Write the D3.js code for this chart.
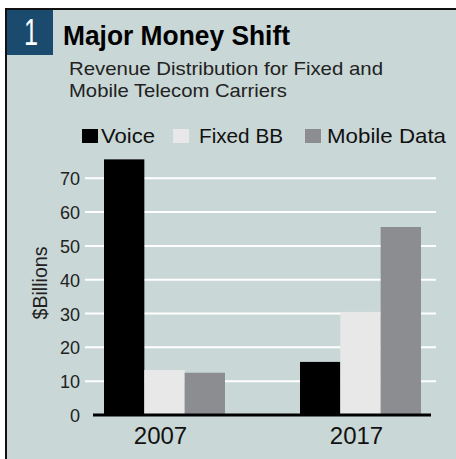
<!DOCTYPE html>
<html>
<head>
<meta charset="utf-8">
<script src="https://cdn.jsdelivr.net/npm/d3@7"></script>
<style>
  body { margin: 0; background: #fff; }
  text { font-family: "Liberation Sans", Arial, sans-serif; }
</style>
</head>
<body>
<svg id="chart" width="456" height="459"></svg>
<script>
// data
var years = ["2007", "2017"];
var series = ["Voice", "Fixed BB", "Mobile Data"];
var voice = [75.6, 15.7];
var fixedBB = [13.3, 30.5];
var mobileData = [12.5, 55.6];
var yTicks = [0, 10, 20, 30, 40, 50, 60, 70];

var colors = { "Voice": "#000000", "Fixed BB": "#e8e8e8", "Mobile Data": "#8c8d90" };
var values = { "Voice": voice, "Fixed BB": fixedBB, "Mobile Data": mobileData };

var svg = d3.select("#chart");

// panel background + frame (top and left only)
svg.append("rect").attr("x", 6).attr("y", 9).attr("width", 450).attr("height", 450).attr("fill", "#c9d7d6");
svg.append("line").attr("x1", 6).attr("x2", 456).attr("y1", 9).attr("y2", 9).attr("stroke", "#111").attr("stroke-width", 2);
svg.append("line").attr("x1", 6).attr("x2", 6).attr("y1", 8).attr("y2", 459).attr("stroke", "#111").attr("stroke-width", 2);

// number badge
svg.append("rect").attr("x", 7).attr("y", 10).attr("width", 46).attr("height", 45).attr("fill", "#1a4a6e");
svg.append("text").attr("x", 31).attr("y", 45).attr("text-anchor", "middle")
  .attr("fill", "#fff").style("font-size", "36px").attr("textLength", 14)
  .attr("lengthAdjust", "spacingAndGlyphs").text("1");

// titles, squeezed to the condensed widths of the original
svg.append("text").attr("x", 63).attr("y", 45)
  .style("font-size", "28px").style("font-weight", "bold").attr("fill", "#000")
  .attr("textLength", 227).attr("lengthAdjust", "spacingAndGlyphs").text("Major Money Shift");
svg.append("text").attr("x", 69).attr("y", 75).style("font-size", "19px").attr("fill", "#222")
  .attr("textLength", 314).attr("lengthAdjust", "spacingAndGlyphs")
  .text("Revenue Distribution for Fixed and");
svg.append("text").attr("x", 69).attr("y", 97).style("font-size", "19px").attr("fill", "#222")
  .attr("textLength", 218).attr("lengthAdjust", "spacingAndGlyphs")
  .text("Mobile Telecom Carriers");

// legend
var legendX = [82, 173, 305];
var legendTextX = [101, 199, 327];
var legendW = [54, 84, 119];
series.forEach(function(s, i) {
  svg.append("rect").attr("x", legendX[i]).attr("y", 129).attr("width", 16).attr("height", 14)
    .attr("fill", colors[s]);
  svg.append("text").attr("x", legendTextX[i]).attr("y", 143)
    .style("font-size", "21px").attr("fill", "#111")
    .attr("textLength", legendW[i]).attr("lengthAdjust", "spacingAndGlyphs").text(s);
});

// scales
var y = d3.scaleLinear().domain([0, 70]).range([415, 178.3]);
var x0 = d3.scaleBand().domain(years).range([104, 421]).paddingInner(75 / 196).paddingOuter(0);
var x1 = d3.scaleBand().domain(series).range([0, x0.bandwidth()]);

// gridlines
svg.append("g").selectAll("line").data(yTicks.filter(function(d) { return d > 0; })).join("line")
  .attr("x1", 85).attr("x2", 436)
  .attr("y1", function(d) { return y(d); }).attr("y2", function(d) { return y(d); })
  .attr("stroke", "#fff").attr("stroke-width", 2);

// y axis labels
var yAxis = d3.axisLeft(y).tickValues(yTicks).tickSize(0).tickPadding(0);
svg.append("g").attr("transform", "translate(80,0)").call(yAxis)
  .call(function(g) { g.select(".domain").remove(); })
  .selectAll("text").style("font-size", "18px").attr("fill", "#222").attr("dy", "0.36em")
  .style("font-family", "'Liberation Sans', Arial, sans-serif");

svg.append("text").attr("transform", "translate(47,283) rotate(-90)").attr("text-anchor", "middle")
  .style("font-size", "20px").attr("fill", "#222")
  .attr("textLength", 73).attr("lengthAdjust", "spacingAndGlyphs").text("$Billions");

// bars
var groups = svg.append("g").selectAll("g").data(years).join("g")
  .attr("transform", function(d) { return "translate(" + x0(d) + ",0)"; });
groups.selectAll("rect").data(function(d, i) {
    return series.map(function(s) { return { key: s, value: values[s][i] }; });
  }).join("rect")
  .attr("x", function(d) { return x1(d.key); })
  .attr("width", x1.bandwidth())
  .attr("y", function(d) { return y(d.value); })
  .attr("height", function(d) { return y(0) - y(d.value); })
  .attr("fill", function(d) { return colors[d.key]; });

// baseline
svg.append("line").attr("x1", 93).attr("x2", 431).attr("y1", y(0)).attr("y2", y(0))
  .attr("stroke", "#000").attr("stroke-width", 3);

// x labels
var xAxis = d3.axisBottom(x0).tickSize(0).tickPadding(12);
svg.append("g").attr("transform", "translate(-4," + y(0) + ")").call(xAxis)
  .call(function(g) { g.select(".domain").remove(); })
  .selectAll("text").style("font-size", "24px").attr("fill", "#111")
  .style("font-family", "'Liberation Sans', Arial, sans-serif");
</script>
</body>
</html>
